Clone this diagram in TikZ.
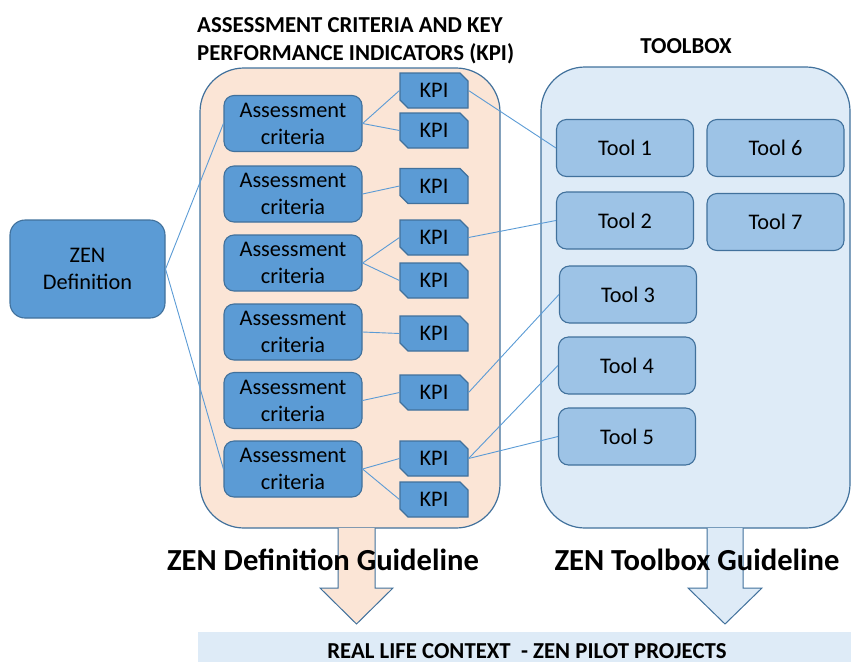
\documentclass[tikz,border=0pt]{standalone}
\usepackage{fontspec}
\setmainfont{Carlito}
\usetikzlibrary{shapes.misc}
\definecolor{boxblue}{HTML}{5B9BD5}
\definecolor{boxborder}{HTML}{41719C}
\definecolor{pinkfill}{HTML}{FBE5D6}
\definecolor{lightblue}{HTML}{DEEBF7}
\definecolor{toolblue}{HTML}{9DC3E6}
\definecolor{linecol}{HTML}{5B9BD5}
\begin{document}
\begin{tikzpicture}[x=1pt,y=-1pt,
  every node/.style={font=\fontsize{22.3}{27}\selectfont, inner sep=0pt, align=center, text=black},
  container/.style={draw=boxborder, line width=1.2pt, rounded corners=44pt},
  zenbox/.style={draw=boxborder, fill=boxblue, line width=1.1pt, rounded corners=15pt, minimum width=155pt, minimum height=98pt},
  crit/.style={draw=boxborder, fill=boxblue, line width=1.1pt, rounded corners=10pt, minimum width=138pt, minimum height=56pt},
  kpibox/.style={chamfered rectangle, chamfered rectangle corners={north east,south west}, chamfered rectangle xsep=4pt, chamfered rectangle ysep=4pt, draw=boxborder, fill=boxblue, line width=1.1pt, minimum width=68pt, minimum height=35pt},
  tool/.style={draw=boxborder, fill=toolblue, line width=1.1pt, rounded corners=10pt, minimum width=137pt, minimum height=57pt},
  conn/.style={draw=linecol, line width=0.9pt},
  bigarrow/.style={draw=boxborder, line width=1pt, line join=miter},
  heading/.style={font=\fontsize{22.8}{28}\selectfont\bfseries},
  guide/.style={font=\fontsize{30.6}{36}\selectfont\bfseries}
]
\useasboundingbox (0,0) rectangle (851,662);
% containers
\path[container, fill=pinkfill] (200,68) rectangle (500,528);
\path[container, fill=lightblue] (541,67) rectangle (850,528);
% bottom arrows
\filldraw[bigarrow, fill=pinkfill] (338,528) -- (338,588) -- (320,588) -- (356.5,624) -- (393,588) -- (375,588) -- (375,528);
\filldraw[bigarrow, fill=lightblue] (707,528) -- (707,588) -- (688,588) -- (725,624) -- (762,588) -- (743,588) -- (743,528);
% banner
\fill[lightblue] (198,632) rectangle (851,662);
% headings
\node[heading, anchor=north west, align=left] (title) at (197,17.5) {ASSESSMENT CRITERIA AND KEY\\PERFORMANCE INDICATORS (KPI)};
\node[heading, anchor=base] (toolbox) at (686,53) {TOOLBOX};
\node[heading, anchor=base] (real) at (527,658) {REAL LIFE CONTEXT \ - ZEN PILOT PROJECTS};
% nodes
\node[zenbox] (zen) at (87.5,269) {ZEN\\Definition};
\node[crit] (a1) at (293,123.5) {Assessment\\criteria};
\node[crit] (a2) at (293,194) {Assessment\\criteria};
\node[crit] (a3) at (293,263) {Assessment\\criteria};
\node[crit] (a4) at (293,332) {Assessment\\criteria};
\node[crit] (a5) at (293,400.5) {Assessment\\criteria};
\node[crit] (a6) at (293,469) {Assessment\\criteria};
\node[kpibox] (k1) at (434,90.5) {KPI};
\node[kpibox] (k2) at (434,130.5) {KPI};
\node[kpibox] (k3) at (434,186) {KPI};
\node[kpibox] (k4) at (434,237.5) {KPI};
\node[kpibox] (k5) at (434,280.5) {KPI};
\node[kpibox] (k6) at (434,333.5) {KPI};
\node[kpibox] (k7) at (434,392.5) {KPI};
\node[kpibox] (k8) at (434,458.5) {KPI};
\node[kpibox] (k9) at (434,499.5) {KPI};
\node[tool] (t1) at (625,148) {Tool 1};
\node[tool] (t6) at (775.5,148) {Tool 6};
\node[tool] (t2) at (625,220.5) {Tool 2};
\node[tool] (t7) at (775.5,222) {Tool 7};
\node[tool] (t3) at (628,294.5) {Tool 3};
\node[tool] (t4) at (627,365.5) {Tool 4};
\node[tool] (t5) at (627,436.5) {Tool 5};
% connectors
\draw[conn] (zen.east) -- (a1.west);
\draw[conn] (zen.east) -- (a6.west);
\draw[conn] (a1.east) -- (k1.west);
\draw[conn] (a1.east) -- (k2.west);
\draw[conn] (a2.east) -- (k3.west);
\draw[conn] (a3.east) -- (k4.west);
\draw[conn] (a3.east) -- (k5.west);
\draw[conn] (a4.east) -- (k6.west);
\draw[conn] (a5.east) -- (k7.west);
\draw[conn] (a6.east) -- (k8.west);
\draw[conn] (a6.east) -- (k9.west);
\draw[conn] (k1.east) -- (t1.west);
\draw[conn] (k4.east) -- (t2.west);
\draw[conn] (k7.east) -- (t3.west);
\draw[conn] (k8.east) -- (t4.west);
\draw[conn] (k8.east) -- (t5.west);
% guideline labels
\node[guide, anchor=base] (g1) at (323,570) {ZEN Definition Guideline};
\node[guide, anchor=base] (g2) at (697,570) {ZEN Toolbox Guideline};
\end{tikzpicture}
\end{document}
